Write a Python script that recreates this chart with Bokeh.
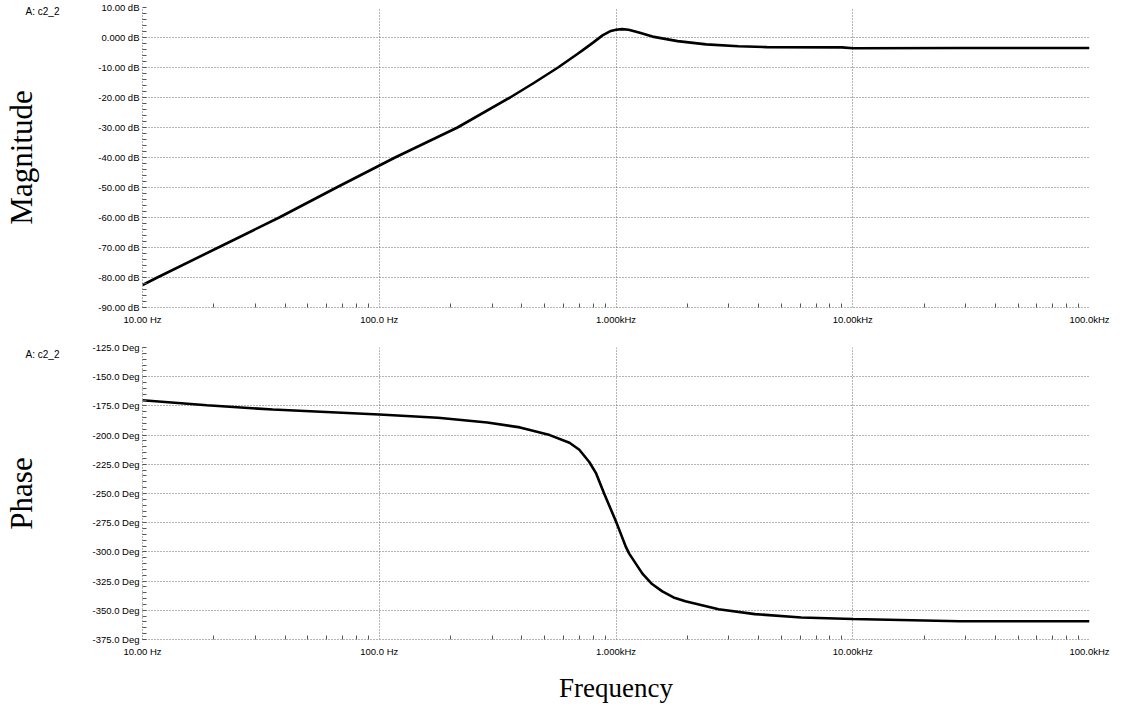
from bokeh.plotting import figure
from bokeh.models import FixedTicker, LinearAxis, Range1d
from bokeh.layouts import column
from bokeh.embed import file_html
from bokeh.resources import INLINE

# ---- data ----
mag_freq = [10, 11.55, 20.9, 37.8, 66, 116.6, 214, 357, 453, 569, 687, 724, 800, 877,
            951, 1000, 1060, 1130, 1250, 1426, 1820, 2404, 3289, 4335, 9010, 10000, 28900, 100000]
mag_db = [-82.5, -80, -70, -60, -50, -40, -30, -20, -15.0, -10, -5.5, -4.2, -1.7, 0.7,
          2.2, 2.6, 2.8, 2.6, 1.7, 0.3, -1.2, -2.3, -2.9, -3.2, -3.3, -3.6, -3.5, -3.5]

phase_freq = [10, 18.7, 35.5, 100, 177, 286, 393, 525, 636, 700, 771, 822, 891, 1000, 1050,
              1097, 1137, 1293, 1420, 1569, 1750, 1964, 2711, 3862, 6060, 10000, 28350, 100000]
phase_deg = [-170.1, -174.5, -178.1, -182.3, -185.1, -189.2, -193.4, -200.0, -206.5, -212.5,
             -223.0, -232.3, -250.0, -274.0, -285.0, -295.0, -301.5, -318.6, -327.5, -333.8,
             -339.0, -342.2, -349.1, -353.3, -356.1, -357.5, -359.4, -359.4]

freq_ticks = [10, 100, 1000, 10000, 100000]
freq_labels = ["10.00 Hz", "100.0 Hz", "1.000kHz", "10.00kHz", "100.0kHz"]
freq_minor = [m * 10 ** d for d in range(1, 5) for m in range(2, 10)]

mag_ticks = [10, 0, -10, -20, -30, -40, -50, -60, -70, -80, -90]
mag_labels = ["10.00 dB", "0.000 dB", "-10.00 dB", "-20.00 dB", "-30.00 dB", "-40.00 dB",
              "-50.00 dB", "-60.00 dB", "-70.00 dB", "-80.00 dB", "-90.00 dB"]
mag_minor = list(range(-90, 11, 2))

phase_ticks = [-125, -150, -175, -200, -225, -250, -275, -300, -325, -350, -375]
phase_labels = ["-125.0 Deg", "-150.0 Deg", "-175.0 Deg", "-200.0 Deg", "-225.0 Deg",
                "-250.0 Deg", "-275.0 Deg", "-300.0 Deg", "-325.0 Deg", "-350.0 Deg",
                "-375.0 Deg"]
phase_minor = list(range(-375, -124, 5))

trace_name = "A: c2_2"

TICK_FONT = "Liberation Sans"
TITLE_FONT = "Liberation Serif"
GRID = "#6a6a6a"


def style(p, yticks, ylabels, yminor, ytitle, name_y, name_standoff):
    p.outline_line_color = None
    p.xaxis.ticker = FixedTicker(ticks=freq_ticks, minor_ticks=freq_minor)
    p.xaxis.major_label_overrides = {t: l for t, l in zip(freq_ticks, freq_labels)}
    p.yaxis.ticker = FixedTicker(ticks=yticks, minor_ticks=yminor)
    p.yaxis.major_label_overrides = {t: l for t, l in zip(yticks, ylabels)}
    for ax in (p.xaxis, p.yaxis):
        ax.axis_line_color = GRID
        ax.axis_line_dash = "1 2"
        ax.major_tick_line_color = None
        ax.major_tick_in = 0
        ax.major_tick_out = 0
        ax.minor_tick_in = 4
        ax.minor_tick_out = 0
        ax.minor_tick_line_color = "#555555"
        ax.major_label_text_font = TICK_FONT
        ax.major_label_text_font_size = "9.5px"
        ax.major_label_text_color = "black"
    p.xaxis.major_label_standoff = 6
    p.yaxis.major_label_standoff = 3
    for g in (p.xgrid, p.ygrid):
        g.grid_line_color = GRID
        g.grid_line_dash = "1 2"
        g.grid_line_width = 1

    # outer left axis: carries the trace name and the rotated title
    name_axis = LinearAxis(ticker=FixedTicker(ticks=[name_y], minor_ticks=[]),
                           major_label_overrides={name_y: trace_name},
                           axis_line_color=None, major_tick_line_color=None,
                           minor_tick_line_color=None, major_tick_in=0, major_tick_out=0,
                           minor_tick_in=0, minor_tick_out=0,
                           major_label_standoff=name_standoff,
                           major_label_text_font=TICK_FONT,
                           major_label_text_font_size="10px",
                           major_label_text_color="black",
                           axis_label=ytitle, axis_label_text_font=TITLE_FONT,
                           axis_label_text_font_style="normal",
                           axis_label_text_font_size="31px",
                           axis_label_text_color="black",
                           axis_label_standoff=-16)
    p.add_layout(name_axis, "left")


p1 = figure(width=1112, height=340, x_axis_type="log",
            x_range=Range1d(10, 100000), y_range=Range1d(-90, 10),
            output_backend="svg", toolbar_location=None,
            min_border_left=134, min_border_right=23, min_border_top=7, min_border_bottom=33)
p1.line(mag_freq, mag_db, line_color="black", line_width=2.6)
style(p1, mag_ticks, mag_labels, mag_minor, "Magnitude", 8.8, 36)

p2 = figure(width=1112, height=365, x_axis_type="log",
            x_range=Range1d(10, 100000), y_range=Range1d(-375, -125),
            output_backend="svg", toolbar_location=None,
            min_border_left=134, min_border_right=23, min_border_top=7, min_border_bottom=60)
p2.line(phase_freq, phase_deg, line_color="black", line_width=2.6)
style(p2, phase_ticks, phase_labels, phase_minor, "Phase", -130.6, 30)
p2.xaxis.axis_label = "Frequency"
p2.xaxis.axis_label_text_font = TITLE_FONT
p2.xaxis.axis_label_text_font_style = "normal"
p2.xaxis.axis_label_text_font_size = "27px"
p2.xaxis.axis_label_text_color = "black"
p2.xaxis.axis_label_standoff = 13

layout = column(p1, p2, spacing=0)
open("out.html", "w").write(file_html(layout, INLINE))
